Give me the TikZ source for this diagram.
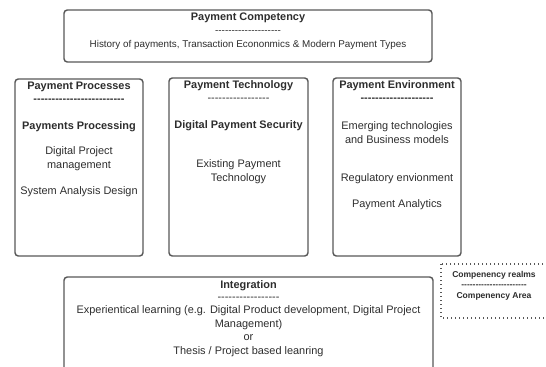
\documentclass[tikz,border=0pt]{standalone}
\usepackage{fontspec}
\setmainfont{Liberation Sans}[Ligatures=TeXOff]

\definecolor{framegray}{RGB}{88,88,88}
\definecolor{inkgray}{RGB}{45,45,45}

\tikzset{
	realm/.style={draw=framegray, line width=1.1pt, rounded corners=2.5pt},
	area/.style={draw=framegray, line width=1pt, dotted},
	head/.style={inner sep=0pt, text=inkgray, font=\fontsize{8.2}{10}\selectfont\bfseries},
	body/.style={inner sep=0pt, text=inkgray, align=center, font=\fontsize{8.2}{10.4}\selectfont},
	small/.style={inner sep=0pt, text=inkgray, font=\fontsize{6.4}{8}\selectfont\bfseries}
}

\begin{document}
\begin{tikzpicture}[x=0.75pt,y=0.75pt,yscale=-1,xscale=1]
	\useasboundingbox (0,0) rectangle (546,367);

	%Rounded Rect: competency
	\draw [realm] (64,10) rectangle (432,62);
	%Rounded Rect: processes
	\draw [realm] (15,79) rectangle (143,256);
	%Rounded Rect: technology
	\draw [realm] (169,78) rectangle (308,256);
	%Rounded Rect: environment
	\draw [realm] (333,78) rectangle (461,256);
	%Rounded Rect: integration
	\draw [realm] (64,277) rectangle (433,375);
	%Dotted Rect: legend
	\draw [area] (441,264) rectangle (552,318);

	% Text Node
	\node [head] (compHead) at (248,18) {Payment Competency};
	\node [body, font=\fontsize{7.4}{10}\selectfont] (compDash) at (248,32) {--------------------};
	\node [body, font=\fontsize{7.4}{10}\selectfont] (compText) at (248,45) {History of payments, Transaction Econonmics \& Modern Payment Types};

	% Text Node
	\node [head] (procHead) at (79,87) {Payment Processes};
	\node [head] (procDash) at (79,101) {-------------------------};
	\node [head] (procMain) at (79,127) {Payments Processing};
	\node [body] (procPm) at (79,159) {Digital Project\\management};
	\node [body] (procSad) at (79,192) {System Analysis Design};

	% Text Node
	\node [head] (techHead) at (238.5,86) {Payment Technology};
	\node [body] (techDash) at (238.5,100) {-----------------};
	\node [head] (techMain) at (238.5,126) {Digital Payment Security};
	\node [body] (techOld) at (238.5,172) {Existing Payment\\Technology};

	% Text Node
	\node [head] (envHead) at (397,86) {Payment Environment};
	\node [head] (envDash) at (397,100) {--------------------};
	\node [body] (envNew) at (397,133) {Emerging technologies\\and Business models};
	\node [body] (envReg) at (397,179) {Regulatory envionment};
	\node [body] (envAna) at (397,205) {Payment Analytics};

	% Text Node
	\node [head] (intHead) at (248.5,286) {Integration};
	\node [body] (intDash) at (248.5,299) {-----------------};
	\node [body, anchor=north] (intText) at (248.5,305) {Experientical learning (e.g. Digital Product development, Digital Project\\Management)\\or\\Thesis / Project based leanring};

	% Text Node
	\node [small] (keyHead) at (494,275) {Compenency realms};
	\node [small] (keyDash) at (494,286) {-----------------------};
	\node [small] (keyArea) at (494,296) {Compenency Area};

\end{tikzpicture}
\end{document}
